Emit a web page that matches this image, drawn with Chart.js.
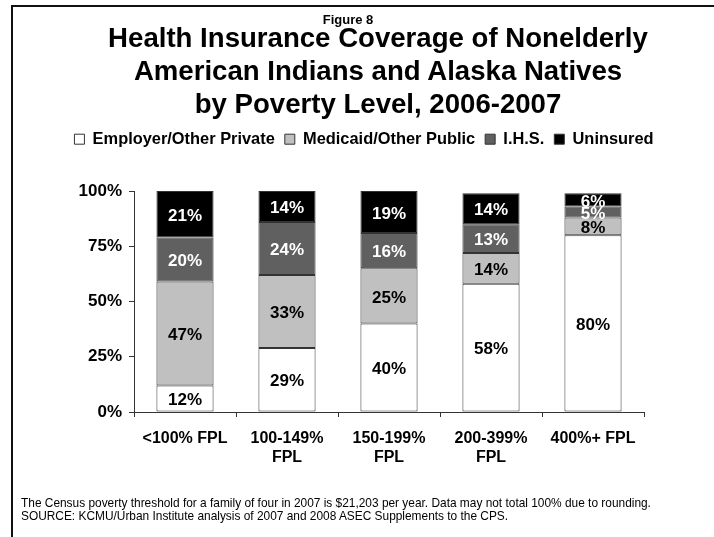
<!DOCTYPE html>
<html>
<head>
<meta charset="utf-8">
<script src="https://cdn.jsdelivr.net/npm/chart.js@4/dist/chart.umd.min.js"></script>
<style>
  html, body { margin: 0; padding: 0; background: #fff; overflow: hidden; width: 714px; height: 537px; }
  body { position: relative; font-family: Arial, "Liberation Sans", sans-serif; color: #000; }
  #frame { position: absolute; left: 11px; top: 5px; width: 800px; height: 600px; border-left: 2px solid #111; border-top: 2px solid #111; }
  #fig { position: absolute; left: 248px; top: 12px; width: 200px; text-align: center; font-weight: bold; font-size: 13px; line-height: 15px; }
  #title { position: absolute; left: 0; top: 21px; width: 756px; text-align: center; font-weight: bold; font-size: 27.6px; line-height: 33px; }
  #note { position: absolute; left: 21px; top: 497px; font-size: 11.9px; line-height: 12.8px; white-space: nowrap; }
  #c { position: absolute; left: 0; top: 0; }
</style>
</head>
<body>
<div id="frame"></div>
<canvas id="c" width="728" height="537"></canvas>
<div id="fig">Figure 8</div>
<div id="title">Health Insurance Coverage of Nonelderly<br>American Indians and Alaska Natives<br>by Poverty Level, 2006-2007</div>
<div id="note">The Census poverty threshold for a family of four in 2007 is $21,203 per year. Data may not total 100% due to rounding.<br>SOURCE: KCMU/Urban Institute analysis of 2007 and 2008 ASEC Supplements to the CPS.</div>
<script>
const categories = [["<100% FPL"], ["100-149%", "FPL"], ["150-199%", "FPL"], ["200-399%", "FPL"], ["400%+ FPL"]];
const seriesNames = ["Employer/Other Private", "Medicaid/Other Public", "I.H.S.", "Uninsured"];
const employer = [12, 29, 40, 58, 80];
const medicaid = [47, 33, 25, 14, 8];
const ihs = [20, 24, 16, 13, 5];
const uninsured = [21, 14, 19, 14, 6];
const yTickStep = 25;

const FONT = 'Arial, "Liberation Sans", sans-serif';
Chart.defaults.font.family = FONT;
Chart.defaults.color = '#000';

const fills = ['#FFFFFF', '#C0C0C0', '#606060', '#000000'];
const labelColors = ['#000', '#000', '#fff', '#fff'];
const seriesData = [employer, medicaid, ihs, uninsured];

const segLabels = {
  id: 'segLabels',
  afterDatasetsDraw(chart) {
    const ctx = chart.ctx;
    ctx.save();
    ctx.font = 'bold 17px ' + FONT;
    ctx.textAlign = 'center';
    ctx.textBaseline = 'middle';
    chart.data.datasets.forEach((ds, di) => {
      const meta = chart.getDatasetMeta(di);
      meta.data.forEach((bar, i) => {
        const v = ds.data[i];
        ctx.fillStyle = labelColors[di];
        ctx.fillText(v + '%', bar.x, (bar.y + bar.base) / 2 + 2);
      });
    });
    ctx.restore();
  }
};

new Chart(document.getElementById('c'), {
  type: 'bar',
  data: {
    labels: categories,
    datasets: seriesNames.map((name, k) => ({
      label: name,
      data: seriesData[k],
      backgroundColor: fills[k],
      borderColor: '#333',
      borderWidth: 1,
      borderSkipped: false,
      barPercentage: 0.56,
      categoryPercentage: 1.0
    }))
  },
  options: {
    responsive: false,
    animation: false,
    devicePixelRatio: 1,
    layout: { padding: { left: 0, right: 0, top: 121, bottom: 65 } },
    plugins: {
      legend: {
        position: 'top',
        labels: {
          boxWidth: 10, boxHeight: 10, padding: 10,
          font: { size: 16.4, weight: 'bold' }, color: '#000'
        }
      },
      subtitle: {
        display: true, text: '', weight: 500, position: 'top',
        font: { size: 10, lineHeight: 1 }, padding: { top: 0, bottom: 23.6 }
      },
      title: {
        display: true, text: '', position: 'right', fullSize: false,
        font: { size: 10, lineHeight: 1 }, padding: { top: 0, bottom: 74 }
      },
      tooltip: { enabled: false }
    },
    scales: {
      x: {
        stacked: true,
        grid: { offset: true, drawOnChartArea: false, drawTicks: true, tickLength: 5, color: '#333' },
        border: { display: true, color: '#333', width: 1 },
        ticks: { font: { size: 16, weight: 'bold' }, color: '#000', padding: 12, maxRotation: 0 },
        afterFit(scale) { scale.height = 60; }
      },
      y: {
        stacked: true,
        min: 0, max: 100,
        grid: { drawOnChartArea: false, drawTicks: true, tickLength: 5, color: '#333' },
        border: { display: true, color: '#333', width: 1 },
        ticks: { stepSize: yTickStep, font: { size: 17, weight: 'bold' }, color: '#000', padding: 7, callback: v => v + '%' },
        afterFit(scale) { scale.width = 134; }
      }
    }
  },
  plugins: [segLabels]
});
</script>
</body>
</html>
